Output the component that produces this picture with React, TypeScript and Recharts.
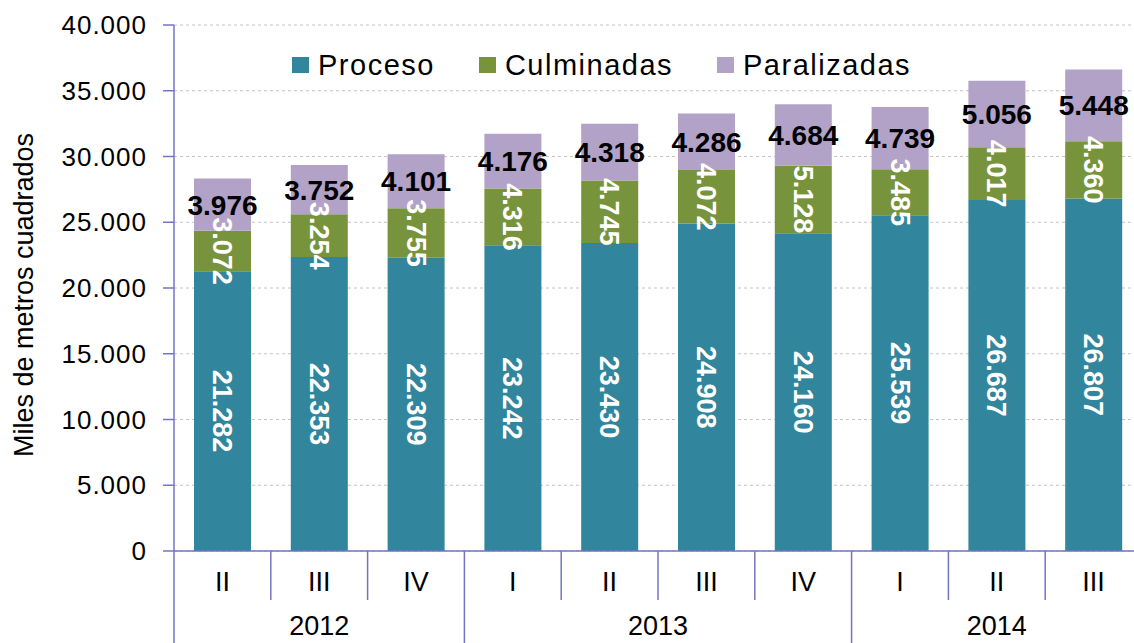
import React from 'react';
import { BarChart, Bar, XAxis, YAxis, CartesianGrid, Legend, LabelList } from 'recharts';

const quarters = ['II', 'III', 'IV', 'I', 'II', 'III', 'IV', 'I', 'II', 'III'];
const years = ['2012', '2012', '2012', '2013', '2013', '2013', '2013', '2014', '2014', '2014'];
const proceso = [21282, 22353, 22309, 23242, 23430, 24908, 24160, 25539, 26687, 26807];
const culminadas = [3072, 3254, 3755, 4316, 4745, 4072, 5128, 3485, 4017, 4360];
const paralizadas = [3976, 3752, 4101, 4176, 4318, 4286, 4684, 4739, 5056, 5448];
const seriesNames = ['Proceso', 'Culminadas', 'Paralizadas'];
const yTicks = [0, 5000, 10000, 15000, 20000, 25000, 30000, 35000, 40000];

const data = quarters.map((q, i) => ({
    q,
    year: years[i],
    proceso: proceso[i],
    culminadas: culminadas[i],
    paralizadas: paralizadas[i],
}));

const FONT = '"Liberation Sans", Arial, sans-serif';
const AXIS = '#7474c4';
const CHART_W = 1150;
const CHART_H = 643;
const Y_AXIS_W = 174;
const MARGIN = { top: 25, right: 8, bottom: 0, left: 0 };
const PLOT_W = CHART_W - Y_AXIS_W - MARGIN.left - MARGIN.right;
const BAND = PLOT_W / quarters.length;
const PLOT_BOTTOM = 551;

const fmt = (n: number) => String(n).replace(/\B(?=(\d{3})+(?!\d))/g, '.');

const QuarterTick = (props: any) => {
    const { x, index, payload } = props;
    const left = x - BAND / 2;
    const yearStart = index === 0 || years[index] !== years[index - 1];
    return (
        <g>
            {!yearStart && <line x1={left} x2={left} y1={PLOT_BOTTOM} y2={PLOT_BOTTOM + 49} stroke={AXIS} strokeWidth={1.5} />}
            <text x={x} y={PLOT_BOTTOM + 40} textAnchor="middle" fontSize={27} fontFamily={FONT} fill="#000">
                {payload.value}
            </text>
        </g>
    );
};

const YearTick = (props: any) => {
    const { x, index } = props;
    const yearStart = index === 0 || years[index] !== years[index - 1];
    if (!yearStart) return <g />;
    const left = x - BAND / 2;
    const len = years.filter((y) => y === years[index]).length;
    return (
        <g>
            <line x1={left} x2={left} y1={PLOT_BOTTOM} y2={CHART_H} stroke={AXIS} strokeWidth={1.5} />
            <text x={left + (len * BAND) / 2} y={635} textAnchor="middle" fontSize={27} fontFamily={FONT} fill="#000">
                {years[index]}
            </text>
        </g>
    );
};

const renderLegend = (props: any) => {
    const items = [...props.payload].sort((a: any, b: any) => seriesNames.indexOf(a.value) - seriesNames.indexOf(b.value));
    return (
        <div style={{ display: 'flex', alignItems: 'center', fontFamily: FONT, fontSize: 29, lineHeight: '32px', color: '#000' }}>
            {items.map((e: any) => (
                <div key={e.value} style={{ display: 'flex', alignItems: 'center', marginRight: 44 }}>
                    <span style={{ display: 'inline-block', width: 17, height: 16, background: e.color, marginRight: 9 }} />
                    <span style={{ letterSpacing: 1.5 }}>{e.value}</span>
                </div>
            ))}
        </div>
    );
};

const YLabel = () => {
    const cy = MARGIN.top + (PLOT_BOTTOM - MARGIN.top) / 2 + 7;
    return (
        <text
            x={0}
            y={0}
            transform={`translate(33, ${cy}) rotate(-90)`}
            textAnchor="middle"
            fontSize={27}
            fontFamily={FONT}
            fill="#000"
        >
            Miles de metros cuadrados
        </text>
    );
};

const App: React.FC = () => {
    return (
        <div style={{ position: 'absolute', left: 0, top: 0, width: 1134, height: 643, overflow: 'hidden', background: '#fff' }}>
            <BarChart width={CHART_W} height={CHART_H} data={data} margin={MARGIN} barSize={57}>
                <CartesianGrid vertical={false} strokeDasharray="3 3" stroke="#c4c4c4" />
                <XAxis
                    dataKey="q"
                    interval={0}
                    height={50}
                    axisLine={{ stroke: AXIS, strokeWidth: 1.5 }}
                    tickLine={false}
                    tick={<QuarterTick />}
                />
                <XAxis
                    xAxisId="year"
                    dataKey="year"
                    interval={0}
                    height={42}
                    axisLine={false}
                    tickLine={false}
                    tick={<YearTick />}
                />
                <YAxis
                    width={Y_AXIS_W}
                    domain={[0, 40000]}
                    ticks={yTicks}
                    interval={0}
                    tickFormatter={fmt}
                    axisLine={{ stroke: AXIS, strokeWidth: 1.5 }}
                    tickLine={{ stroke: AXIS, strokeWidth: 1.5 }}
                    tickSize={11}
                    tickMargin={16}
                    tick={{ fill: '#000', fontSize: 26, fontFamily: FONT, letterSpacing: 1 }}
                    label={<YLabel />}
                />
                <Legend
                    layout="horizontal"
                    verticalAlign="middle"
                    align="center"
                    content={renderLegend}
                    wrapperStyle={{ top: 49, left: 292, width: 'auto' }}
                />
                <Bar dataKey="proceso" name="Proceso" stackId="a" fill="#31859c" isAnimationActive={false}>
                    <LabelList
                        dataKey="proceso"
                        position="center"
                        angle={90}
                        formatter={(v: any) => fmt(Number(v))}
                        fill="#fff"
                        fontSize={27}
                        fontWeight="bold"
                        fontFamily={FONT}
                    />
                </Bar>
                <Bar dataKey="culminadas" name="Culminadas" stackId="a" fill="#77933c" isAnimationActive={false}>
                    <LabelList
                        dataKey="culminadas"
                        position="center"
                        angle={90}
                        formatter={(v: any) => fmt(Number(v))}
                        fill="#fff"
                        fontSize={27}
                        fontWeight="bold"
                        fontFamily={FONT}
                    />
                </Bar>
                <Bar dataKey="paralizadas" name="Paralizadas" stackId="a" fill="#b3a2c7" isAnimationActive={false}>
                    <LabelList
                        dataKey="paralizadas"
                        position="center"
                        formatter={(v: any) => fmt(Number(v))}
                        fill="#000"
                        fontSize={28}
                        fontWeight="bold"
                        fontFamily={FONT}
                    />
                </Bar>
            </BarChart>
        </div>
    );
};

export default App;
